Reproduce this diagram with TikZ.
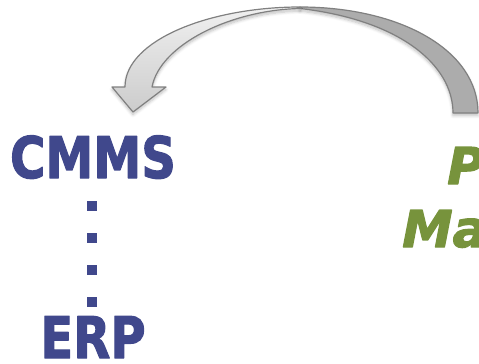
\documentclass[tikz,border=0pt]{standalone}
\usepackage{fontspec}
\setmainfont{DejaVu Sans}
\usetikzlibrary{shadows.blur}
\definecolor{cmmsblue}{RGB}{64,72,140}
\definecolor{pmgreen}{RGB}{119,147,60}
\definecolor{arrowline}{RGB}{128,128,128}
\definecolor{arrowdark}{RGB}{172,172,172}
\newcommand{\heavytext}[1]{\special{pdf:literal direct 2 Tr 0.9 w 1 j}#1\special{pdf:literal direct 0 Tr}}
\tikzset{
  bluelabel/.style={inner sep=0pt, anchor=base, text=cmmsblue, font=\fontsize{43}{48}\selectfont\bfseries},
  greenlabel/.style={inner sep=0pt, anchor=base west, text=pmgreen, font=\fontsize{38}{42}\selectfont\bfseries\itshape},
  arrowpart/.style={draw=arrowline, line width=0.9pt, line join=round},
}
\begin{document}
\begin{tikzpicture}[x=0.75pt,y=-0.75pt]
\useasboundingbox (0,0) rectangle (479,364);
\clip (0,0) rectangle (479,364);
% back (right) band of the curved arrow
\path[arrowpart, fill=arrowdark, blur shadow={shadow xshift=0pt, shadow yshift=-2pt, shadow blur steps=6, shadow opacity=25}]
  (300,7) .. controls (400,7) and (478,50) .. (478,113) -- (453,113)
  .. controls (453,65) and (400,20) .. (300,8.5) -- cycle;
% front (left) band with the head
\path[arrowpart, top color=white!94!black, bottom color=white!80!black, blur shadow={shadow xshift=0pt, shadow yshift=-2pt, shadow blur steps=6, shadow opacity=25}]
  (300,7) .. controls (210,7) and (125,40) .. (125,87) -- (112,87) -- (133,112) -- (166,87) -- (152,87)
  .. controls (160,45) and (230,10) .. (300,8.5) -- cycle;
% labels
\node[bluelabel] (cmms) at (93,178) {\scalebox{0.84}[1]{\heavytext{CMMS}}};
\node[bluelabel] (erp) at (93,358) {\scalebox{0.84}[1]{\heavytext{ERP}}};
\coordinate (d1) at (92,201);
\coordinate (d2) at (92,307);
\draw[cmmsblue, line width=7.5pt, dash pattern=on 7.5pt off 16.5pt] (d1) -- (d2);
\node[greenlabel] (p) at (447,184) {\heavytext{P}};
\node[greenlabel] (ma) at (402,247) {\heavytext{Ma}};
\end{tikzpicture}
\end{document}
